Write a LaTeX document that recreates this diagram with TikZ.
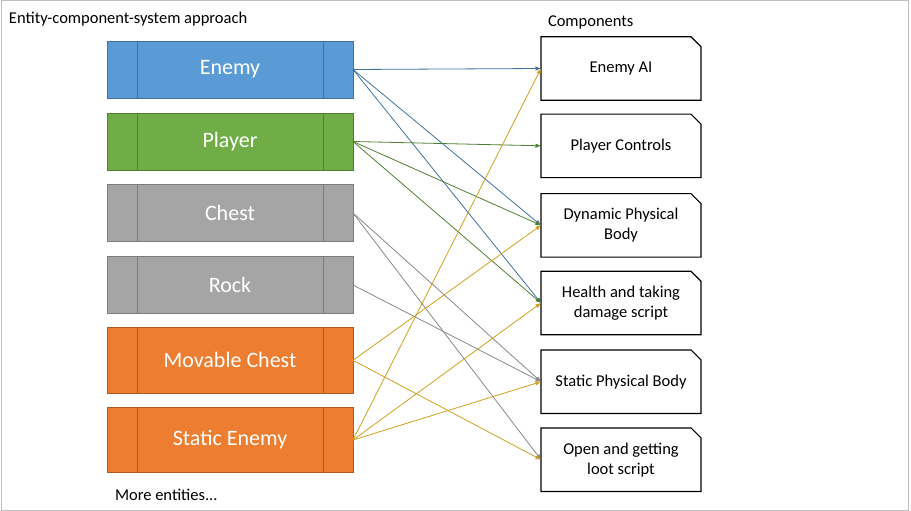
\documentclass[tikz,border=0pt]{standalone}
\usepackage{fontspec}
\setmainfont{Carlito}
\usetikzlibrary{arrows.meta}

\definecolor{bluefill}{HTML}{5B9BD5}
\definecolor{blueedge}{HTML}{41719C}
\definecolor{greenfill}{HTML}{70AD47}
\definecolor{greenedge}{HTML}{507E32}
\definecolor{grayfill}{HTML}{A5A5A5}
\definecolor{grayedge}{HTML}{7C7C7C}
\definecolor{orangefill}{HTML}{ED7D31}
\definecolor{orangeedge}{HTML}{AE5A21}
\definecolor{goldline}{HTML}{CFA020}

\begin{document}
\begin{tikzpicture}
  [x=1pt,y=-1pt,every node/.style={inner sep=0pt,outer sep=0pt}]

  \tikzstyle{entity} = [draw,line width=0.9pt,minimum width=246pt,minimum height=57pt,
                        text=white,font=\fontsize{22}{26}\selectfont]
  \tikzstyle{comp}   = [minimum width=160pt,minimum height=63.5pt,align=center,
                        font=\fontsize{16.5}{20}\selectfont]
  \tikzstyle{label}  = [anchor=base west,font=\fontsize{16.5}{20}\selectfont]
  \tikzstyle{link}   = [-{Triangle[length=5pt,width=4pt]},line width=0.8pt,shorten >=0.5pt]

  \useasboundingbox (0,0) rectangle (911,511);
  \draw[black!25,line width=1pt] (1,1) rectangle (908,510);

  \node[label] (title) at (9,24) {Entity-component-system approach};
  \node[label] (complabel) at (548,27) {Components};
  \node[label] (more) at (115,500) {More entities...};

  % entities
  \node[entity,fill=bluefill,draw=blueedge]     (enemy)    at (230,69.5) {Enemy};
  \node[entity,fill=greenfill,draw=greenedge]   (player)   at (230,141.5) {Player};
  \node[entity,fill=grayfill,draw=grayedge]     (chest)    at (230,213) {Chest};
  \node[entity,fill=grayfill,draw=grayedge]     (rock)     at (230,285) {Rock};
  \node[entity,fill=orangefill,draw=orangeedge,minimum height=65.5pt] (movchest) at (230,360.3) {Movable Chest};
  \node[entity,fill=orangefill,draw=orangeedge,minimum height=65.5pt] (statenemy) at (230,440) {Static Enemy};

  \foreach \n/\c in {enemy/blueedge,player/greenedge,chest/grayedge,rock/grayedge,
                     movchest/orangeedge,statenemy/orangeedge}
  {
    \draw[\c,line width=0.9pt] ([xshift=30pt]\n.north west) -- ([xshift=30pt]\n.south west);
    \draw[\c,line width=0.9pt] ([xshift=-30pt]\n.north east) -- ([xshift=-30pt]\n.south east);
  }

  % components
  \node[comp] (ai)   at (621,68.5) {Enemy AI};
  \node[comp] (ctrl) at (621,145.8) {Player Controls};
  \node[comp] (dyn)  at (621,225.3) {Dynamic Physical\\Body};
  \node[comp] (hp)   at (621,303) {Health and taking\\damage script};
  \node[comp] (stat) at (621,381.7) {Static Physical Body};
  \node[comp] (loot) at (621,459.7) {Open and getting\\loot script};

  \foreach \n in {ai,ctrl,dyn,hp,stat,loot}
    \draw[line width=1.1pt] (\n.south west) -- (\n.north west) -- ([xshift=-10pt]\n.north east)
      -- ([yshift=-10pt]\n.north east) -- (\n.south east) -- cycle;

  % links
  \path[link,blueedge]
        (enemy.east) edge (ai.west)
        (enemy.east) edge (dyn.west)
        (enemy.east) edge (hp.west);
  \path[link,greenedge]
        (player.east) edge (ctrl.west)
        (player.east) edge (dyn.west)
        (player.east) edge (hp.west);
  \path[link,grayedge!90]
        (chest.east) edge (stat.west)
        (chest.east) edge (loot.west)
        (rock.east) edge (stat.west);
  \path[link,goldline]
        (movchest.east) edge (dyn.west)
        (movchest.east) edge (loot.west)
        (statenemy.east) edge (ai.west)
        (statenemy.east) edge (hp.west)
        (statenemy.east) edge (stat.west);
\end{tikzpicture}
\end{document}
